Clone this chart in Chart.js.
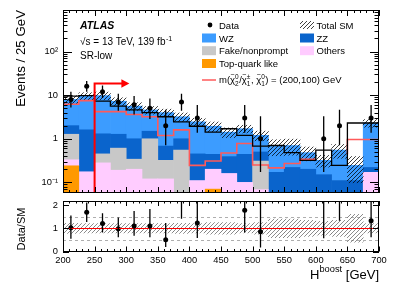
<!DOCTYPE html>
<html>
<head>
<meta charset="utf-8">
<script src="https://cdn.jsdelivr.net/npm/chart.js@4.4.1/dist/chart.umd.min.js"></script>
<style>
  body { margin: 0; background: #fff; }
  #frame { position: relative; width: 399px; height: 286px; }
  canvas { position: absolute; left: 0; }
</style>
</head>
<body>
<div id="frame">
  <canvas id="mainChart" width="399" height="197" style="top:0"></canvas>
  <canvas id="ratioChart" width="399" height="89" style="top:197px"></canvas>
</div>
<script>
"use strict";

// bins of 25 GeV, 200 - 700 GeV
const binEdges = [200, 225, 250, 275, 300, 325, 350, 375, 400, 425, 450,
                  475, 500, 525, 550, 575, 600, 625, 650, 675, 700];
const xTickLabels = [200, 250, 300, 350, 400, 450, 500, 550, 600, 650, 700];

// background yields per bin (stacked bottom -> top)
const topq   = [0.24, 0, 0, 0, 0, 0, 0, 0, 0, 0.07, 0, 0, 0, 0, 0, 0, 0, 0, 0, 0];
const others = [0.09, 0.175, 0.28, 0.19, 0.2, 0.12, 0.12, 0.04, 0.11, 0.13, 0.16, 0.1, 0.068, 0, 0, 0, 0, 0, 0, 0.17];
const fake   = [0.94, 0, 0.17, 0.42, 0.14, 0.88, 0.2, 0.51, 0, 0, 0, 0, 0.24, 0, 0, 0, 0, 0, 0, 0];
const zz     = [0.73, 1.43, 0.85, 0.66, 0.66, 0.49, 0.36, 0.45, 0.34, 0.24, 0.23, 0.34, 0.19, 0.17, 0.22, 0.2, 0.15, 0.11, 0.11, 0.05];
const wz     = [6.0, 7.9, 8.5, 6.0, 4.6, 3.1, 3.3, 2.2, 2.0, 1.5, 1.03, 1.26, 0.7, 0.51, 0.48, 0.28, 0.17, 0.44, 0.135, 2.08];
// relative uncertainty of the SM total
const sysUnc = [0.22, 0.2, 0.2, 0.2, 0.2, 0.2, 0.2, 0.22, 0.2, 0.25, 0.25, 0.2, 0.25, 0.4, 0.4, 0.35, 0.3, 0.35, 0.6, 0.2];

// signal m(chi2/chi1pm, chi1) = (200,100)
const signal = [2.0, 6.2, 7.5, 4.2, 4.2, 3.6, 3.2, 1.19, 1.6, 0.245, 0.31, 0.47, 0.78, 0.25, 0.215, 0.27, 0.34, 0, 0.44, 0.96];

// observed data and its error bars
const dataObs  = [8, 16, 12, 7, 6, 5, 2, 7, 3, null, null, 3, 1, null, null, null, 1, 2, null, 3];
const dataLow  = [5.23, 12.0, 8.6, 4.42, 3.62, 2.84, 0.71, 4.42, 1.37, null, null, 1.37, 0.173, null, null, null, 0.173, 0.71, null, 1.37];
const dataHigh = [11.95, 21.2, 16.6, 10.77, 9.58, 8.38, 4.64, 10.77, 5.92, null, null, 5.92, 3.3, null, null, null, 3.3, 4.64, null, 5.92];

// Data/SM panel
const ratio     = [1.03, 1.69, 1.21, 0.98, 1.10, 1.10, 0.51, 2.3, 1.23, null, null, 1.78, 0.85, null, null, null, 3.1, 3.6, null, 1.33];
const ratioLow  = [0.55, 1.27, 0.82, 0.61, 0.68, 0.61, 0.19, 1.41, 0.58, null, null, 0.82, 0.17, null, null, null, 0.57, 1.33, null, 0.61];
const ratioHigh = [1.55, 2.12, 1.65, 1.47, 1.75, 1.83, 1.23, 3.4, 2.4, null, null, 3.5, 2.8, null, null, null, 10, 8.4, null, 2.6];

// signal region cut arrow
const cutValue = 250;
const arrowTip = 305;
const arrowLevel = 18.5;

const FONT = "'Liberation Sans', Arial, Helvetica, sans-serif";
const C_WZ = "#3c9cff", C_ZZ = "#0a64cc", C_FAKE = "#c8c8c8", C_OTH = "#ffccff", C_TOP = "#ff9900", C_SIG = "#ff5a5a";

function makeHatch(color, size, lw) {
    const c = document.createElement("canvas");
    c.width = size; c.height = size;
    const g = c.getContext("2d");
    g.strokeStyle = color;
    g.lineWidth = lw;
    g.beginPath();
    g.moveTo(0, size); g.lineTo(size, 0);
    g.moveTo(-1, 1); g.lineTo(1, -1);
    g.moveTo(size - 1, size + 1); g.lineTo(size + 1, size - 1);
    g.stroke();
    return g.createPattern(c, "repeat");
}
const hatchBlack = makeHatch("#000", 4, 0.75);
const hatchGrey = makeHatch("#666", 4, 0.75);

const centres = binEdges.slice(0, -1).map((e, i) => (e + binEdges[i + 1]) / 2);
const pts = arr => arr.map((v, i) => ({x: centres[i], y: v}));
const steps = arr => binEdges.map((e, i) => ({x: e, y: arr[Math.min(i, arr.length - 1)]}));
const total = wz.map((_, i) => wz[i] + zz[i] + fake[i] + others[i] + topq[i]);

const SUP = {"0": "\u2070", "1": "\u00b9", "2": "\u00b2", "3": "\u00b3", "-": "\u207b"};
function logLabel(v) {
    const e = Math.log10(v);
    if (Math.abs(e - Math.round(e)) > 1e-6) return "";
    const n = Math.round(e);
    if (n === 0) return "1";
    if (n === 1) return "10";
    return "10" + String(n).split("").map(ch => SUP[ch]).join("");
}

function drawErrorBars(chart, lows, highs) {
    const {ctx, chartArea: a, scales: {x, y}} = chart;
    ctx.save();
    ctx.beginPath();
    ctx.rect(a.left, a.top, a.right - a.left, a.bottom - a.top);
    ctx.clip();
    ctx.strokeStyle = "#000";
    ctx.lineWidth = 1.3;
    ctx.beginPath();
    centres.forEach((c, i) => {
        if (lows[i] == null) return;
        const px = x.getPixelForValue(c);
        ctx.moveTo(px, y.getPixelForValue(lows[i]));
        ctx.lineTo(px, y.getPixelForValue(highs[i]));
    });
    ctx.stroke();
    ctx.restore();
}

// major ticks every 50 GeV come from the axis, minor ones every 10 GeV in between
function drawXTicks(chart, major, minor) {
    const {ctx, chartArea: a, scales: {x}} = chart;
    ctx.beginPath();
    for (let v = x.min; v <= x.max; v += 10) {
        const px = Math.round(x.getPixelForValue(v)) + 0.5;
        const len = v % 50 === 0 ? major : minor;
        ctx.moveTo(px, a.bottom); ctx.lineTo(px, a.bottom - len);
        ctx.moveTo(px, a.top); ctx.lineTo(px, a.top + len);
    }
    ctx.stroke();
}

function drawFrame(ctx, a) {
    ctx.strokeRect(Math.round(a.left) + 0.5, Math.round(a.top) + 0.5,
                   Math.round(a.right - a.left) - 1, Math.round(a.bottom - a.top) - 1);
}

function legendBox(ctx, x, y, fill) {
    ctx.fillStyle = fill;
    ctx.fillRect(x, y, 14, 9);
}

function drawChi(ctx, x, y, sup, sub) {
    ctx.font = `9.5px ${FONT}`;
    ctx.fillText("\u03c7", x, y);
    const w = ctx.measureText("\u03c7").width;
    ctx.font = `7px ${FONT}`;
    ctx.textAlign = "center";
    ctx.fillText("~", x + w / 2, y - 6);
    ctx.textAlign = "left";
    ctx.font = `6.5px ${FONT}`;
    ctx.fillText(sup, x + w, y - 4);
    ctx.fillText(sub, x + w, y + 2.5);
    return w + Math.max(ctx.measureText(sup).width, ctx.measureText(sub).width) + 0.5;
}

const mainDecor = {
    id: "mainDecor",
    afterDatasetsDraw(chart) {
        const {ctx, chartArea: a, scales: {x, y}} = chart;
        drawErrorBars(chart, dataLow, dataHigh);

        // signal region arrow
        ctx.save();
        ctx.strokeStyle = "#ff0000";
        ctx.fillStyle = "#ff0000";
        ctx.lineWidth = 2;
        const cx = x.getPixelForValue(cutValue), cy = y.getPixelForValue(arrowLevel);
        const tx = x.getPixelForValue(arrowTip);
        ctx.beginPath();
        ctx.moveTo(cx, a.bottom); ctx.lineTo(cx, cy); ctx.lineTo(tx - 6, cy);
        ctx.stroke();
        ctx.beginPath();
        ctx.moveTo(tx, cy); ctx.lineTo(tx - 8, cy - 4.2); ctx.lineTo(tx - 8, cy + 4.2); ctx.closePath();
        ctx.fill();
        ctx.restore();
    },
    afterDraw(chart) {
        const {ctx, chartArea: a, scales: {y}} = chart;
        ctx.save();
        ctx.strokeStyle = "#000";
        ctx.lineWidth = 1;
        drawFrame(ctx, a);
        drawXTicks(chart, 6, 3);
        // log ticks on both sides
        ctx.beginPath();
        for (let d = -2; d <= 3; d++) {
            for (let k = 1; k <= 9; k++) {
                const v = k * Math.pow(10, d);
                if (v < y.min || v > y.max) continue;
                const py = Math.round(y.getPixelForValue(v)) + 0.5;
                const len = k === 1 ? 9 : 4.5;
                ctx.moveTo(a.left, py); ctx.lineTo(a.left + len, py);
                ctx.moveTo(a.right, py); ctx.lineTo(a.right - len, py);
            }
        }
        ctx.stroke();

        // y title
        ctx.fillStyle = "#000";
        ctx.save();
        ctx.translate(25, 10);
        ctx.rotate(-Math.PI / 2);
        ctx.font = `13.3px ${FONT}`;
        ctx.textAlign = "right";
        ctx.fillText("Events / 25 GeV", 0, 0);
        ctx.restore();

        // ATLAS label
        ctx.textAlign = "left";
        ctx.font = `italic bold 10.5px ${FONT}`;
        ctx.fillText("ATLAS", 80, 29);
        ctx.font = `10px ${FONT}`;
        ctx.fillText("\u221as = 13 TeV, 139 fb", 80, 45);
        const w = ctx.measureText("\u221as = 13 TeV, 139 fb").width;
        ctx.font = `7px ${FONT}`;
        ctx.fillText("-1", 80 + w + 0.5, 40.5);
        ctx.font = `10px ${FONT}`;
        ctx.fillText("SR-low", 80, 59);

        // legend
        ctx.font = `9.5px ${FONT}`;
        ctx.beginPath();
        ctx.arc(210, 25, 2.4, 0, 2 * Math.PI);
        ctx.fill();
        ctx.fillText("Data", 219, 28.5);
        ctx.fillStyle = hatchBlack;
        ctx.fillRect(300, 21, 14, 8);
        ctx.fillStyle = "#000";
        ctx.fillText("Total SM", 316.5, 28.5);

        legendBox(ctx, 202, 33.5, C_WZ);
        legendBox(ctx, 300, 33.5, C_ZZ);
        legendBox(ctx, 202, 46.2, C_FAKE);
        legendBox(ctx, 300, 46.2, C_OTH);
        legendBox(ctx, 202, 59, C_TOP);
        ctx.fillStyle = "#000";
        ctx.fillText("WZ", 219, 41.7);
        ctx.fillText("ZZ", 316.5, 41.7);
        ctx.fillText("Fake/nonprompt", 219, 54.4);
        ctx.fillText("Others", 316.5, 54.4);
        ctx.fillText("Top-quark like", 219, 67.2);

        ctx.strokeStyle = C_SIG;
        ctx.lineWidth = 1.5;
        ctx.beginPath();
        ctx.moveTo(202, 80); ctx.lineTo(216, 80);
        ctx.stroke();
        let px = 219;
        const by = 83;
        ctx.font = `9.5px ${FONT}`;
        ctx.fillText("m(", px, by); px += ctx.measureText("m(").width;
        px += drawChi(ctx, px, by, "0", "2");
        ctx.font = `9.5px ${FONT}`;
        ctx.fillText("/", px, by); px += ctx.measureText("/").width;
        px += drawChi(ctx, px, by, "\u00b1", "1");
        ctx.font = `9.5px ${FONT}`;
        ctx.fillText(", ", px, by); px += ctx.measureText(", ").width;
        px += drawChi(ctx, px, by, "0", "1");
        ctx.font = `9.5px ${FONT}`;
        ctx.fillText(") = (200,100) GeV", px, by);
        ctx.restore();
    }
};

new Chart(document.getElementById("mainChart"), {
    type: "bar",
    data: {
        datasets: [
            {label: "Top-quark like", data: pts(topq), backgroundColor: C_TOP, stack: "sm", order: 3},
            {label: "Others", data: pts(others), backgroundColor: C_OTH, stack: "sm", order: 3},
            {label: "Fake/nonprompt", data: pts(fake), backgroundColor: C_FAKE, stack: "sm", order: 3},
            {label: "ZZ", data: pts(zz), backgroundColor: C_ZZ, stack: "sm", order: 3},
            {label: "WZ", data: pts(wz), backgroundColor: C_WZ, stack: "sm", order: 3},
            {label: "Total SM", data: total.map((t, i) => ({x: centres[i], y: [t * (1 - sysUnc[i]), t * (1 + sysUnc[i])]})),
             backgroundColor: hatchBlack, stack: "unc", grouped: false, order: 2},
            {type: "line", label: "total", data: steps(total), stepped: "after", borderColor: "#000",
             borderWidth: 1.3, pointRadius: 0, fill: false, stack: "tot", order: 1},
            {type: "line", label: "signal", data: steps(signal), stepped: "after", borderColor: C_SIG,
             borderWidth: 1.6, pointRadius: 0, fill: false, stack: "sig", order: 1},
            {type: "line", label: "Data", data: pts(dataObs), showLine: false, pointRadius: 2.5,
             pointBackgroundColor: "#000", pointBorderWidth: 0, stack: "pts", order: 0}
        ]
    },
    options: {
        responsive: false,
        animation: false,
        barPercentage: 1,
        categoryPercentage: 1,
        layout: {padding: {left: 0, right: 20, top: 10, bottom: 4}},
        plugins: {legend: {display: false}, tooltip: {enabled: false}},
        scales: {
            x: {
                type: "linear", min: 200, max: 700, offset: false, stacked: true,
                grid: {display: false, drawTicks: false}, border: {display: false},
                ticks: {display: false, stepSize: 50},
                afterFit: s => { s.height = 0; s.paddingLeft = 0; s.paddingRight = 0; }
            },
            y: {
                type: "logarithmic", min: 0.057, max: 900, stacked: true,
                grid: {display: false, drawTicks: false}, border: {display: false},
                ticks: {autoSkip: false, padding: 5, color: "#000", font: {family: FONT, size: 9.3}, callback: logLabel},
                afterFit: s => { s.width = 63; s.paddingTop = 0; s.paddingBottom = 0; }
            }
        }
    },
    plugins: [mainDecor]
});

const ratioDecor = {
    id: "ratioDecor",
    beforeDatasetsDraw(chart) {
        const {ctx, chartArea: a, scales: {y}} = chart;
        ctx.save();
        ctx.strokeStyle = "#999";
        ctx.lineWidth = 0.8;
        ctx.setLineDash([3, 3]);
        ctx.beginPath();
        [0.5, 1.5].forEach(v => {
            const py = Math.round(y.getPixelForValue(v)) + 0.5;
            ctx.moveTo(a.left, py); ctx.lineTo(a.right, py);
        });
        ctx.stroke();
        ctx.restore();
    },
    afterDatasetsDraw(chart) {
        const {ctx, chartArea: a, scales: {y}} = chart;
        ctx.save();
        ctx.strokeStyle = "#ff0000";
        ctx.lineWidth = 1;
        const py = Math.round(y.getPixelForValue(1)) + 0.5;
        ctx.beginPath();
        ctx.moveTo(a.left, py); ctx.lineTo(a.right, py);
        ctx.stroke();
        ctx.restore();
        drawErrorBars(chart, ratioLow, ratioHigh);
    },
    afterDraw(chart) {
        const {ctx, chartArea: a, scales: {y}} = chart;
        ctx.save();
        ctx.strokeStyle = "#000";
        ctx.lineWidth = 1;
        drawFrame(ctx, a);
        drawXTicks(chart, 5, 2.5);
        ctx.beginPath();
        [0, 1, 2].forEach(v => {
            const py = Math.round(y.getPixelForValue(v)) + 0.5;
            ctx.moveTo(a.left, py); ctx.lineTo(a.left + 6, py);
            ctx.moveTo(a.right, py); ctx.lineTo(a.right - 6, py);
        });
        ctx.stroke();

        ctx.fillStyle = "#000";
        ctx.save();
        ctx.translate(25, 32);
        ctx.rotate(-Math.PI / 2);
        ctx.font = `11px ${FONT}`;
        ctx.textAlign = "center";
        ctx.fillText("Data/SM", 0, 0);
        ctx.restore();

        // x title, right aligned
        ctx.font = `13px ${FONT}`;
        const wH = ctx.measureText("H").width;
        const wG = ctx.measureText(" [GeV]").width;
        ctx.font = `9.3px ${FONT}`;
        const wB = ctx.measureText("boost").width;
        let px = a.right - (wH + wB + wG);
        const by = 82.3;
        ctx.font = `13px ${FONT}`;
        ctx.fillText("H", px, by);
        ctx.font = `9.3px ${FONT}`;
        ctx.fillText("boost", px + wH, by - 7.5);
        ctx.font = `13px ${FONT}`;
        ctx.fillText(" [GeV]", px + wH + wB, by);
        ctx.restore();
    }
};

new Chart(document.getElementById("ratioChart"), {
    type: "bar",
    data: {
        datasets: [
            {label: "band", data: sysUnc.map((u, i) => ({x: centres[i], y: [1 - u, 1 + u]})),
             backgroundColor: hatchGrey, order: 2},
            {type: "line", label: "Data/SM", data: pts(ratio), showLine: false, pointRadius: 2.5,
             pointBackgroundColor: "#000", pointBorderWidth: 0, order: 0}
        ]
    },
    options: {
        responsive: false,
        animation: false,
        barPercentage: 1,
        categoryPercentage: 1,
        layout: {padding: {left: 0, right: 20, top: 2.3, bottom: 0}},
        plugins: {legend: {display: false}, tooltip: {enabled: false}},
        scales: {
            x: {
                type: "linear", min: 200, max: 700, offset: false,
                grid: {display: false, drawTicks: false}, border: {display: false},
                ticks: {stepSize: 50, autoSkip: false, maxRotation: 0, padding: 3, color: "#000",
                        font: {family: FONT, size: 9.3},
                        callback: v => xTickLabels.includes(v) ? String(v) : ""},
                afterFit: s => { s.height = 34.5; s.paddingLeft = 0; s.paddingRight = 0; }
            },
            y: {
                type: "linear", min: 0, max: 2.18,
                grid: {display: false, drawTicks: false}, border: {display: false},
                ticks: {stepSize: 1, includeBounds: false, padding: 5, color: "#000", font: {family: FONT, size: 9.3}},
                afterFit: s => { s.width = 63; s.paddingTop = 0; s.paddingBottom = 0; }
            }
        }
    },
    plugins: [ratioDecor]
});
</script>
</body>
</html>
